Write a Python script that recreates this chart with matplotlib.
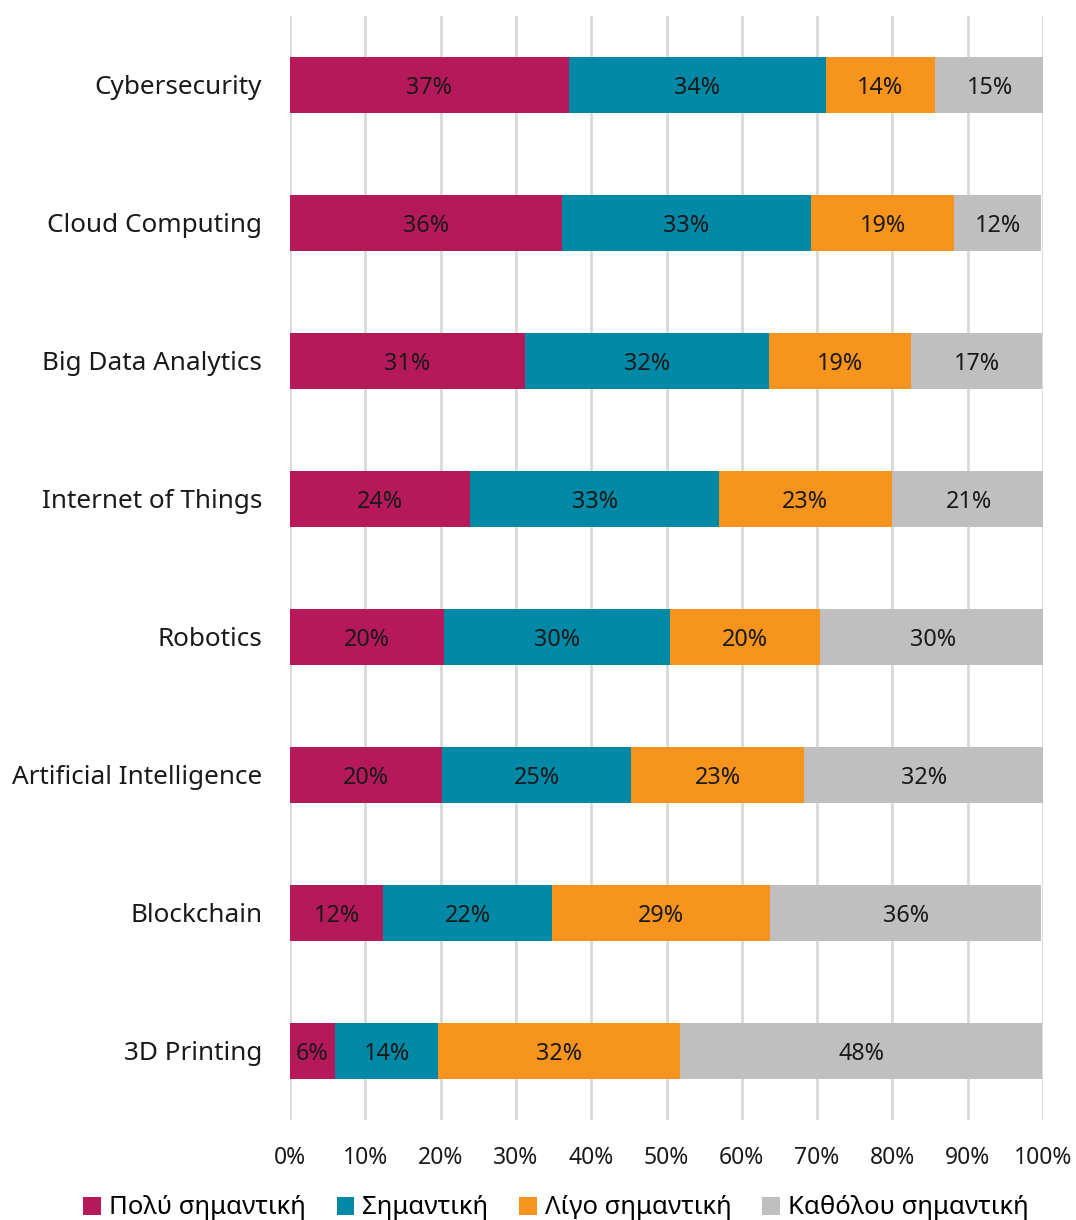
import numpy as np
import matplotlib.pyplot as plt

plt.rcParams["font.family"] = ["Noto Sans", "DejaVu Sans"]

categories = [
    "Cybersecurity",
    "Cloud Computing",
    "Big Data Analytics",
    "Internet of Things",
    "Robotics",
    "Artificial Intelligence",
    "Blockchain",
    "3D Printing",
]
very_important = [37.0, 36.1, 31.2, 23.9, 20.4, 20.2, 12.4, 6.0]
important = [34.2, 33.1, 32.4, 33.1, 30.1, 25.1, 22.4, 13.7]
little_important = [14.4, 19.0, 18.9, 22.9, 19.9, 23.0, 29.0, 32.1]
not_important = [14.7, 11.6, 17.4, 20.6, 29.9, 31.9, 36.0, 48.1]
labels_very = ["37%", "36%", "31%", "24%", "20%", "20%", "12%", "6%"]
labels_imp = ["34%", "33%", "32%", "33%", "30%", "25%", "22%", "14%"]
labels_little = ["14%", "19%", "19%", "23%", "20%", "23%", "29%", "32%"]
labels_not = ["15%", "12%", "17%", "21%", "30%", "32%", "36%", "48%"]

series_names = ["Πολύ σημαντική", "Σημαντική", "Λίγο σημαντική", "Καθόλου σημαντική"]
colors = ["#B5195A", "#0089A7", "#F7941E", "#BFBFBF"]

fig = plt.figure(figsize=(10.76, 12.2), dpi=100)
ax = fig.add_axes([290 / 1076, 1 - 1120 / 1220, (1043 - 290) / 1076, (1120 - 16) / 1220])

y = np.arange(len(categories))
left = np.zeros(len(categories))
all_vals = [very_important, important, little_important, not_important]
all_labels = [labels_very, labels_imp, labels_little, labels_not]
for vals, labs, name, col in zip(all_vals, all_labels, series_names, colors):
    vals = np.array(vals)
    bars = ax.barh(y, vals, left=left, height=0.4, color=col, label=name, zorder=2)
    for b, lab in zip(bars, labs):
        ax.text(b.get_x() + b.get_width() / 2, b.get_y() + b.get_height() / 2, lab,
                ha="center", va="center_baseline", fontsize=16.8, color="#1a1a1a", zorder=3)
    left += vals

ax.set_yticks(y)
ax.set_yticklabels(categories, fontsize=18.8, color="#1a1a1a")
ax.set_ylim(len(categories) - 0.5, -0.5)
ax.set_xlim(0, 100)
ax.set_xticks(np.arange(0, 101, 10))
ax.set_xticklabels([f"{v}%" for v in range(0, 101, 10)], fontsize=16.5, color="#1a1a1a")
ax.tick_params(axis="both", length=0)
ax.tick_params(axis="y", pad=20)
ax.tick_params(axis="x", pad=19)
ax.xaxis.grid(True, color="#D9D9D9", linewidth=2, zorder=0)
ax.set_axisbelow(True)
for s in ax.spines.values():
    s.set_visible(False)

fig.legend(
    loc="center",
    bbox_to_anchor=(556 / 1076, 1 - 1208 / 1220),
    ncol=4,
    frameon=False,
    fontsize=18.5,
    handlelength=0.7,
    handleheight=0.7,
    handletextpad=0.3,
    columnspacing=1.2,
)

fig.savefig("out.png", dpi=100)
